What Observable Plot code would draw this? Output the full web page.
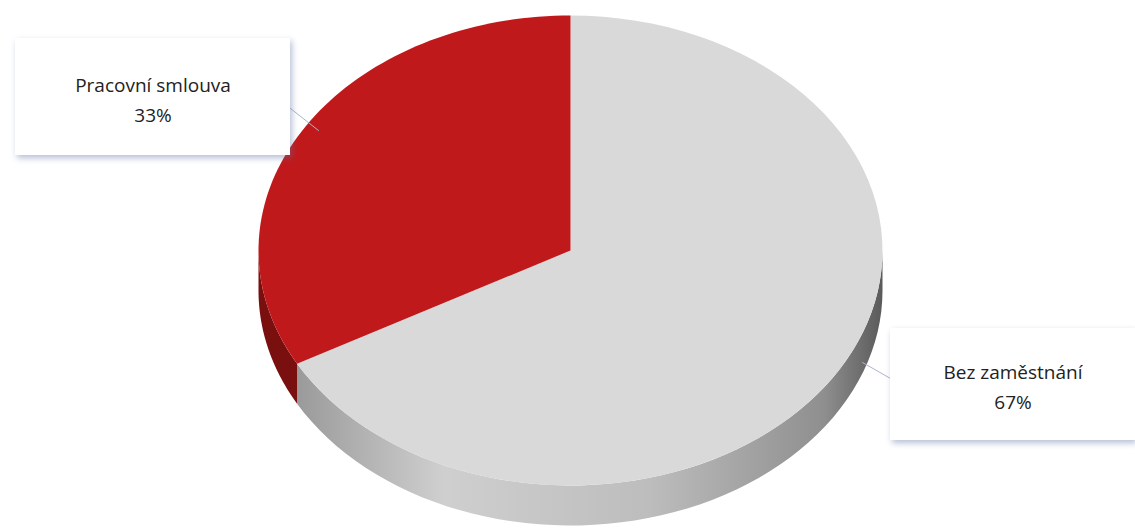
<!DOCTYPE html>
<html><head><meta charset="utf-8">
<script src="https://cdn.jsdelivr.net/npm/d3@7"></script>
<script src="https://cdn.jsdelivr.net/npm/@observablehq/plot@0.6"></script>
<style>body{margin:0;background:#fff}.box{filter:drop-shadow(2px 3px 3px rgba(90,110,160,.45))}</style>
</head><body><div id="chart"></div>
<script>
const categories = ["Bez zaměstnání", "Pracovní smlouva"];
const shares = [0.67, 0.33];
const colors = ["#d9d9d9", "#c0191b"];
const sideColors = ["url(#gside)", "#7a0f10"];

const W = 1135, H = 529, cx = 570, cy = 250, rx = 312, ry = 235, depth = 40;
const pt = (a, dy = 0) => ({x: cx + rx * Math.sin(a), y: cy - ry * Math.cos(a) + dy});

let acc = 0;
const slices = categories.map((c, i) => {
  const a0 = acc * 2 * Math.PI; acc += shares[i]; const a1 = acc * 2 * Math.PI;
  return {c, i, a0, a1};
});

const tops = [], sides = [];
for (const s of slices) {
  tops.push({x: cx, y: cy, k: s.c, i: s.i});
  for (let t = 0; t <= 80; t++) tops.push({...pt(s.a0 + (s.a1 - s.a0) * t / 80), k: s.c, i: s.i});
  const b0 = Math.max(s.a0, Math.PI / 2), b1 = Math.min(s.a1, 1.5 * Math.PI);
  if (b1 > b0) {
    const up = [], dn = [];
    for (let t = 0; t <= 60; t++) { const a = b0 + (b1 - b0) * t / 60; up.push(pt(a)); dn.push(pt(a, depth)); }
    for (const p of [...up, ...dn.reverse()]) sides.push({...p, k: s.c, i: s.i});
  }
}

const labels = [
  {c: categories[1], v: shares[1], x1: 15, x2: 290, y1: 38, y2: 155, lx: [290, 318], ly: [108, 130]},
  {c: categories[0], v: shares[0], x1: 890, x2: 1135, y1: 328, y2: 440, lx: [862, 890], ly: [362, 378]}
];

const chart = Plot.plot({
  width: W, height: H, margin: 0,
  x: {domain: [0, W], range: [0, W], axis: null},
  y: {domain: [0, H], range: [0, H], axis: null},
  marks: [
    Plot.line(sides, {x: "x", y: "y", z: "k", fill: d => sideColors[d.i], stroke: "none", curve: "linear-closed"}),
    Plot.line(tops, {x: "x", y: "y", z: "k", fill: d => colors[d.i], stroke: "none", curve: "linear-closed"}),
    Plot.line(labels.flatMap((l, j) => l.lx.map((x, k) => ({x, y: l.ly[k], j}))), {x: "x", y: "y", z: "j", stroke: "#aab4cc", strokeWidth: 1}),
    Plot.rect(labels, {x1: "x1", x2: "x2", y1: "y1", y2: "y2", fill: "white", className: "box"}),
    Plot.text(labels, {x: d => (d.x1 + d.x2) / 2, y: d => (d.y1 + d.y2) / 2, text: d => `${d.c}\n${Math.round(d.v * 100)}%`,
      fontSize: 19, lineHeight: 1.6, fill: "#222", fontFamily: "Open Sans"})
  ]
});
const defs = d3.select(chart).insert("defs", ":first-child");
const g = defs.append("linearGradient").attr("id", "gside").attr("x1", 0).attr("x2", 1).attr("y1", 0).attr("y2", 0);
[[0, "#9a9a9a"], [0.25, "#cfcfcf"], [0.6, "#bdbdbd"], [0.9, "#8f8f8f"], [1, "#5a5a5a"]].forEach(([o, c]) => g.append("stop").attr("offset", o).attr("stop-color", c));
document.getElementById("chart").append(chart);
</script></body></html>
